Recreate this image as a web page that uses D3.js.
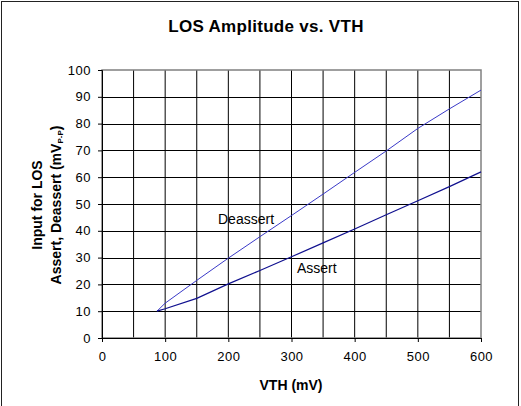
<!DOCTYPE html>
<html>
<head>
<meta charset="utf-8">
<script src="https://cdn.jsdelivr.net/npm/d3@7"></script>
<style>
  body { margin: 0; background: #fff; }
  text { font-family: Arial, "Liberation Sans", sans-serif; }
</style>
</head>
<body>
<div id="chart"></div>
<script>
// chart values
var xTicks = [0, 100, 200, 300, 400, 500, 600];
var yTicks = [0, 10, 20, 30, 40, 50, 60, 70, 80, 90, 100];
var xGrid = [50, 100, 150, 200, 250, 300, 350, 400, 450, 500, 550];

var vth = [87, 100, 150, 200, 250, 300, 350, 400, 450, 500, 550, 600];
var deassert = [10, 13, 21.5, 29.8, 37.8, 45.7, 53.7, 61.8, 69.8, 78.2, 85.5, 92.5];
var assert = [10, 10.9, 14.8, 20.2, 25.2, 30.3, 35.5, 40.7, 46, 51.2, 56.5, 62];

var WIDTH = 521, HEIGHT = 406;

var svg = d3.select("#chart").append("svg")
    .attr("width", WIDTH)
    .attr("height", HEIGHT);

// outer frame
svg.append("rect")
    .attr("x", 1.5).attr("y", 1.5)
    .attr("width", 517).attr("height", 420)
    .attr("fill", "none")
    .attr("stroke", "#222");

var x = d3.scaleLinear().domain([0, 600]).range([102, 481]);
var y = d3.scaleLinear().domain([0, 100]).range([338, 70]);

// grid
svg.selectAll(".vgrid").data(xGrid).enter().append("line")
    .attr("x1", d => x(d)).attr("x2", d => x(d))
    .attr("y1", y(100)).attr("y2", y(0))
    .attr("stroke", "#000").attr("stroke-width", 1);

svg.selectAll(".hgrid").data(yTicks.slice(1, -1)).enter().append("line")
    .attr("x1", x(0)).attr("x2", x(600))
    .attr("y1", d => Math.round(y(d)) + 0.5).attr("y2", d => Math.round(y(d)) + 0.5)
    .attr("stroke", "#000").attr("stroke-width", 1);

// plot border (top/right grey)
svg.append("rect")
    .attr("x", x(0)).attr("y", y(100))
    .attr("width", x(600) - x(0)).attr("height", y(0) - y(100))
    .attr("fill", "none").attr("stroke", "#808080").attr("stroke-width", 1.5);

// axes
var xAxis = d3.axisBottom(x).tickValues(xTicks).tickSize(4).tickPadding(10);
var yAxis = d3.axisLeft(y).tickValues(yTicks).tickSize(4).tickPadding(7);

var gx = svg.append("g").attr("transform", "translate(0," + y(0) + ")").call(xAxis);
var gy = svg.append("g").attr("transform", "translate(" + x(0) + ",0)").call(yAxis);

[gx, gy].forEach(function (g) {
    g.select(".domain").attr("stroke", "#000");
    g.selectAll(".tick line").attr("stroke", "#000");
    g.selectAll(".tick text")
        .attr("fill", "#000")
        .style("font-size", "13px")
        .style("letter-spacing", "0.5px")
        .style("font-family", "Arial, 'Liberation Sans', sans-serif");
});

// lines
var line = d3.line()
    .x(d => x(d[0]))
    .y(d => y(d[1]));

svg.append("path")
    .datum(vth.map((v, i) => [v, deassert[i]]))
    .attr("d", line)
    .attr("fill", "none")
    .attr("stroke", "#3a3ac8")
    .attr("stroke-width", 1);

svg.append("path")
    .datum(vth.map((v, i) => [v, assert[i]]))
    .attr("d", line)
    .attr("fill", "none")
    .attr("stroke", "#10108f")
    .attr("stroke-width", 1.2);

// series labels
svg.append("text").attr("x", 218).attr("y", 224)
    .style("font-size", "14px").text("Deassert");
svg.append("text").attr("x", 297).attr("y", 273)
    .style("font-size", "14px").text("Assert");

// title
svg.append("text")
    .attr("x", 266).attr("y", 32)
    .attr("text-anchor", "middle")
    .style("font-size", "17px").style("font-weight", "bold")
    .style("letter-spacing", "0.3px")
    .text("LOS Amplitude vs. VTH");

// x title
svg.append("text")
    .attr("x", 291).attr("y", 390)
    .attr("text-anchor", "middle")
    .style("font-size", "14px").style("font-weight", "bold")
    .text("VTH (mV)");

// y title, two lines
var yt = svg.append("text")
    .attr("transform", "translate(42,205) rotate(-90)")
    .attr("text-anchor", "middle")
    .style("font-size", "14px").style("font-weight", "bold");
yt.append("tspan").attr("x", 0).attr("y", 0).text("Input for LOS");
yt.append("tspan").attr("x", 0).attr("y", 19).text("Assert, Deassert (mV");
yt.append("tspan").attr("dy", 2).style("font-size", "8px").text("P-P");
yt.append("tspan").attr("dy", -2).text(")");
</script>
</body>
</html>
